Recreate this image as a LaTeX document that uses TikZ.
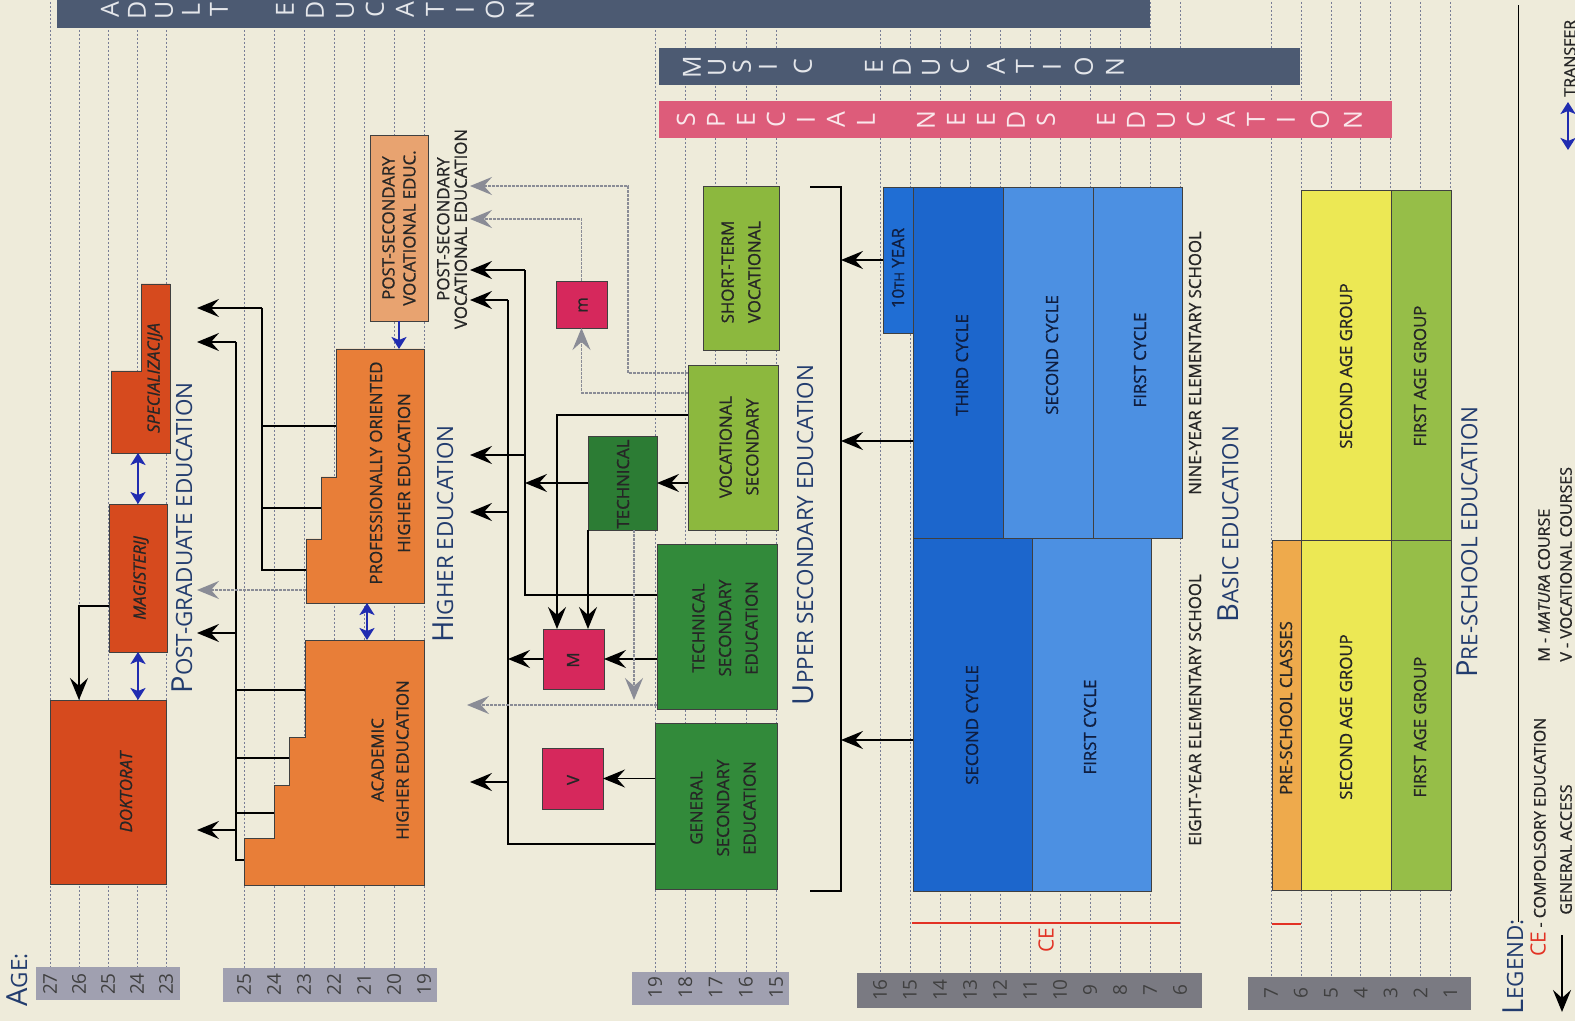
\documentclass[tikz,border=0pt]{standalone}
\usepackage{fontspec}
\setmainfont{Open Sans}[FakeBold=0.9]
\newfontfamily\titlefont{Open Sans}
\usepackage{tikz}
\usetikzlibrary{arrows.meta,calc}
\definecolor{paper}{RGB}{238,235,218}
\definecolor{gridblue}{RGB}{120,125,150}
\definecolor{agegray}{RGB}{160,160,176}
\definecolor{agedark}{RGB}{122,122,130}
\definecolor{slate}{RGB}{76,90,114}
\definecolor{rosebar}{RGB}{221,92,122}
\definecolor{pgred}{RGB}{214,74,30}
\definecolor{heorange}{RGB}{232,126,56}
\definecolor{pslight}{RGB}{232,163,112}
\definecolor{secgreen}{RGB}{50,138,58}
\definecolor{techgreen}{RGB}{44,124,52}
\definecolor{vocgreen}{RGB}{140,184,62}
\definecolor{mcrimson}{RGB}{214,40,92}
\definecolor{bluedark}{RGB}{28,102,204}
\definecolor{bluelight}{RGB}{76,144,226}
\definecolor{tenthblue}{RGB}{32,110,212}
\definecolor{psorange}{RGB}{238,170,76}
\definecolor{psyellow}{RGB}{236,232,84}
\definecolor{psgreen}{RGB}{150,190,72}
\definecolor{titleblue}{RGB}{34,60,110}
\definecolor{navytext}{RGB}{15,30,64}
\definecolor{cered}{RGB}{226,50,36}
\definecolor{transblue}{RGB}{32,44,176}
\definecolor{accgray}{RGB}{138,140,150}
% box from (x1,y1) to (x2,y2) in picture units
\newcommand{\edbox}[6]{%
  \node[#2, minimum width={(#5-#3)*0.5pt}, minimum height={(#6-#4)*0.5pt}]
    (#1) at ({(#3+#5)/2},{(#4+#6)/2}) {};}
\newcommand{\sctitle}[2]{{\titlefont\fontsize{14.5}{15}\selectfont #1}{\titlefont\fontsize{11.2}{12}\selectfont #2}}

\begin{document}
\begin{tikzpicture}[x=0.5pt, y=-0.5pt,
    every node/.style={font=\fontsize{8.4}{13.3}\selectfont, text=black!85, inner sep=0pt},
    box/.style={draw=black!75, line width=0.4pt, outer sep=0pt},
    lbl/.style={rotate=90, align=center},
    ttl/.style={rotate=90, text=titleblue},
    gline/.style={gridblue, line width=0.3pt, dash pattern=on 1.2pt off 0.8pt},
    conn/.style={line width=0.9pt},
    arr/.style={line width=0.9pt, arrows={-Stealth[length=11pt,width=9pt,inset=4pt]}},
    garr/.style={accgray, line width=0.9pt, dash pattern=on 1.5pt off 0.5pt,
      arrows={-Stealth[length=11pt,width=9pt,inset=4pt]}},
    trans/.style={transblue, line width=1.4pt,
      arrows={Stealth[length=6pt,width=7.5pt,inset=1.5pt]-Stealth[length=6pt,width=7.5pt,inset=1.5pt]}},
    transone/.style={transblue, line width=1.4pt, arrows={-Stealth[length=6pt,width=7.5pt,inset=1.5pt]}},
    bannerletter/.style={rotate=90, font=\titlefont\fontsize{12.5}{12}\selectfont},
    agenum/.style={rotate=90, font=\titlefont\fontsize{9.5}{9}\selectfont, text=black!75}]
  \path[use as bounding box] (0,0) rectangle (1575,1021);
  \clip (0,0) rectangle (1575,1021);
  \fill[paper] (0,0) rectangle (1575,1021);

  % --- age axes and grid ---
  \fill[agegray] (36,967) rectangle (180,1000);
  \foreach \a [count=\i from 0] in {27,26,25,24,23} {
    \pgfmathsetmacro{\x}{50+29*\i}
    \draw[gline] (\x,2) -- (\x,967);
    \node[agenum] (pg\a) at (\x,984) {\a};
  }
  \fill[agegray] (223,968) rectangle (437,1002);
  \foreach \a [count=\i from 0] in {25,24,23,22,21,20,19} {
    \pgfmathsetmacro{\x}{244+30*\i}
    \draw[gline] (\x,2) -- (\x,968);
    \node[agenum] (he\a) at (\x,985) {\a};
  }
  \fill[agegray] (632,972) rectangle (789,1005);
  \foreach \a [count=\i from 0] in {19,18,17,16,15} {
    \pgfmathsetmacro{\x}{655+30.3*\i}
    \draw[gline] (\x,2) -- (\x,972);
    \node[agenum] (us\a) at (\x,988) {\a};
  }
  \fill[agedark] (857,973) rectangle (1202,1008);
  \foreach \a [count=\i from 0] in {16,15,14,13,12,11,10,9,8,7,6} {
    \pgfmathsetmacro{\x}{880+30*\i}
    \draw[gline] (\x,2) -- (\x,973);
    \node[agenum] (be\a) at (\x,990) {\a};
  }
  \fill[agedark] (1248,977) rectangle (1471,1010);
  \foreach \a [count=\i from 0] in {7,6,5,4,3,2,1} {
    \pgfmathsetmacro{\x}{1271+29.9*\i}
    \draw[gline] (\x,2) -- (\x,977);
    \node[agenum] (ps\a) at (\x,993) {\a};
  }
  \node[ttl] (age) at (17,980) {\sctitle{A}{GE:}};

  % --- banners ---
  \fill[slate] (57,-5) rectangle (1150,28);
  \foreach \c/\x in {A/110,D/137,U/164,L/191,T/219,E/285,D/315,U/345,C/375,A/405,T/435,I/465,O/495,N/525}
    \node[bannerletter, text=slate!15] (ad\x) at (\x,10) {\c};
  \fill[slate] (659,48) rectangle (1300,85);
  \foreach \c/\x in {M/692,U/717,S/742,I/768,C/803,E/874,D/902,U/931,C/960,A/996,T/1025,I/1052,O/1084,N/1115}
    \node[bannerletter, text=slate!15] (mu\x) at (\x,67) {\c};
  \fill[rosebar] (659,101) rectangle (1392,138);
  \foreach \c/\x in {S/686,P/716,E/746,C/776,I/806,A/836,L/866,N/926,E/956,E/986,D/1016,S/1046,E/1106,D/1136,U/1166,C/1196,A/1226,T/1256,I/1286,O/1320,N/1353}
    \node[bannerletter, text=rosebar!15] (sn\x) at (\x,120) {\c};

  % --- post-graduate ---
  \edbox{dok}{box,fill=pgred}{50}{700}{166}{884}
  \node[lbl, font=\fontsize{8.4}{13}\selectfont\itshape] (dok-t) at (126,792) {DOKTORAT};
  \edbox{mag}{box,fill=pgred}{109}{504}{167}{652}
  \node[lbl, font=\fontsize{8.4}{13}\selectfont\itshape] (mag-t) at (141,578) {MAGISTERIJ};
  \filldraw[fill=pgred, draw=black!75, line width=0.4pt]
    (111,453) -- (111,371) -- (141,371) -- (141,284) -- (170,284) -- (170,453) -- cycle;
  \node[lbl, font=\fontsize{8.4}{13}\selectfont\itshape] (spec) at (155,378) {SPECIALIZACIJA};
  \coordinate (specB) at (138,453);
  \draw[trans] (mag.south) -- (mag.south |- dok.north);
  \draw[trans] (mag.north) -- (mag.north |- specB);
  \draw[arr] ($(mag.west)+(0,28)$) -| ($(dok.north)+(-29,0)$);
  \node[ttl] (pgt) at (182,538) {\sctitle{P}{OST-GRADUATE EDUCATION}};

  % --- higher education ---
  \filldraw[fill=heorange, draw=black!75, line width=0.4pt]
    (244,885) -- (244,838) -- (274,838) -- (274,785) -- (289,785) -- (289,737)
    -- (305,737) -- (305,640) -- (424,640) -- (424,885) -- cycle;
  \node[lbl, font=\fontsize{8.4}{12.5}\selectfont] (acad) at (390,760) {ACADEMIC\\HIGHER EDUCATION};
  \filldraw[fill=heorange, draw=black!75, line width=0.4pt]
    (306,603) -- (306,539) -- (321,539) -- (321,477) -- (336,477) -- (336,349)
    -- (424,349) -- (424,603) -- cycle;
  \node[lbl, font=\fontsize{8.4}{14}\selectfont] (prof) at (390,473) {PROFESSIONALLY ORIENTED\\HIGHER EDUCATION};
  \edbox{psv}{box,fill=pslight}{370}{135}{428}{321}
  \node[lbl, font=\fontsize{8.4}{10.5}\selectfont] (psv-t) at (399,228) {POST-SECONDARY\\VOCATIONAL EDUC.};
  \coordinate (profT) at (399,349);
  \coordinate (profB) at (367,603);
  \coordinate (acadT) at (367,640);
  \draw[transone] (psv.south) -- (profT);
  \draw[trans] (profB) -- (acadT);

  \coordinate (pgIn) at (197,0);
  % academic exits
  \coordinate (acTop) at (236,342);
  \coordinate (acBot) at (236,860);
  \coordinate (ac1) at (244,860);
  \coordinate (ac2) at (274,813);
  \coordinate (ac3) at (289,758);
  \coordinate (ac4) at (305,690);
  \coordinate (acM) at (236,633);
  \coordinate (acD) at (236,830);
  \draw[conn] (acTop) -- (acBot) -- (ac1);
  \foreach \c in {ac2,ac3,ac4}
    \draw[conn] (\c) -- (\c -| acTop);
  \foreach \c in {acTop,acM,acD}
    \draw[arr] (\c) -- (\c -| pgIn);
  % professional exits
  \coordinate (prTop) at (262,308);
  \coordinate (prBot) at (262,570);
  \coordinate (pr1) at (306,570);
  \coordinate (pr2) at (321,508);
  \coordinate (pr3) at (336,426);
  \coordinate (pr4) at (306,590);
  \draw[conn] (prTop) -- (prBot) -- (pr1);
  \foreach \c in {pr2,pr3}
    \draw[conn] (\c) -- (\c -| prTop);
  \draw[arr] (prTop) -- (prTop -| pgIn);
  \draw[garr] (pr4) -- (pr4 -| pgIn);
  \node[ttl] (het) at (443,534) {\sctitle{H}{IGHER EDUCATION}};
  \node[lbl, font=\fontsize{8.4}{8.8}\selectfont] (psvl) at (452,229) {POST-SECONDARY\\VOCATIONAL EDUCATION};

  % --- upper secondary ---
  \edbox{gen}{box,fill=secgreen}{655}{723}{777}{889}
  \node[lbl] (gen-t) at (723,808) {GENERAL\\SECONDARY\\EDUCATION};
  \edbox{tsec}{box,fill=secgreen}{657}{544}{777}{709}
  \node[lbl] (tsec-t) at (725,628) {TECHNICAL\\SECONDARY\\EDUCATION};
  \edbox{tech}{box,fill=techgreen}{588}{436}{657}{530}
  \node[lbl] (tech-t) at (623,484) {TECHNICAL};
  \edbox{vsec}{box,fill=vocgreen}{688}{365}{778}{530}
  \node[lbl] (vsec-t) at (739,447) {VOCATIONAL\\SECONDARY};
  \edbox{stv}{box,fill=vocgreen}{703}{186}{779}{350}
  \node[lbl] (stv-t) at (741,272) {SHORT-TERM\\VOCATIONAL};
  \edbox{vbox}{box,fill=mcrimson}{542}{748}{603}{809}
  \node[lbl] (v-t) at (573,780) {V};
  \edbox{mbig}{box,fill=mcrimson}{543}{629}{604}{689}
  \node[lbl] (M-t) at (573,660) {M};
  \edbox{msmall}{box,fill=mcrimson}{556}{281}{607}{328}
  \node[lbl] (m-t) at (583,305) {m};

  \coordinate (heIn) at (470,0);
  % general secondary
  \coordinate (gnTop) at (508,300);
  \coordinate (gnBot) at (508,844);
  \coordinate (gnMid) at (508,512);
  \coordinate (gnLow) at (508,782);
  \draw[conn] (gen.west |- gnBot) -- (gnBot) -- (gnTop);
  \foreach \c in {gnTop,gnMid,gnLow}
    \draw[arr] (\c) -- (\c -| heIn);
  \draw[arr] (vbox.east -| gen.west) -- (vbox.east);
  \draw[arr] (mbig.west) -- (mbig.west -| gnTop);
  % technical secondary
  \coordinate (tsTop) at (525,270);
  \coordinate (tsBot) at (525,595);
  \coordinate (tsMid) at (525,455);
  \draw[conn] (tsec.west |- tsBot) -- (tsBot) -- (tsTop);
  \foreach \c in {tsTop,tsMid}
    \draw[arr] (\c) -- (\c -| heIn);
  \draw[arr] (tech.west) -- (tech.west -| tsTop);
  \draw[arr] (vsec.west |- tech.east) -- (tech.east);
  \draw[arr] (mbig.east -| tsec.west) -- (mbig.east);
  \coordinate (vsM) at (557,415);
  \draw[arr] (vsec.west |- vsM) -- (vsM) -- (vsM |- mbig.north);
  \draw[arr] (tech.south west) -- (tech.south west |- mbig.north);
  % conditional access (grey)
  \coordinate (tgIn) at (467,705);
  \coordinate (tdn) at (634,700);
  \coordinate (vm) at (581.5,393);
  \coordinate (mp) at (581.5,219);
  \coordinate (vp1) at (628,373);
  \coordinate (vp2) at (628,186);
  \draw[garr] (tsec.west |- tgIn) -- (tgIn);
  \draw[garr] (tech.south -| tdn) -- (tdn);
  \draw[garr] (vsec.west |- vm) -- (vm) -- (msmall.south);
  \draw[garr] (msmall.north) -- (mp) -- (mp -| heIn);
  \draw[garr] (vsec.west |- vp1) -- (vp1) -- (vp2) -- (vp2 -| heIn);
  \node[ttl] (ust) at (803,535) {\sctitle{U}{PPER SECONDARY EDUCATION}};
  % bracket
  \coordinate (brT) at (841,187);
  \coordinate (brB) at (841,891);
  \draw[conn] ($(brT)+(-31,0)$) -- (brT) -- (brB) -- ($(brB)+(-31,0)$);

  % --- basic education ---
  \edbox{tenth}{box,fill=tenthblue}{883}{187}{913}{333}
  \node[lbl, text=navytext] (tenth-t) at (898,268) {10{\fontsize{6.5}{8}\selectfont TH} YEAR};
  \edbox{third9}{box,fill=bluedark}{913}{187}{1003}{538}
  \node[lbl, text=navytext] (third9-t) at (962,365) {THIRD CYCLE};
  \edbox{second9}{box,fill=bluelight}{1003}{187}{1093}{538}
  \node[lbl, text=navytext] (second9-t) at (1052,355) {SECOND CYCLE};
  \edbox{first9}{box,fill=bluelight}{1093}{187}{1182}{538}
  \node[lbl, text=navytext] (first9-t) at (1140,360) {FIRST CYCLE};
  \edbox{second8}{box,fill=bluedark}{913}{538}{1032}{891}
  \node[lbl, text=navytext] (second8-t) at (972,725) {SECOND CYCLE};
  \edbox{first8}{box,fill=bluelight}{1032}{538}{1151}{891}
  \node[lbl, text=navytext] (first8-t) at (1090,727) {FIRST CYCLE};
  \coordinate (t9a) at (913,441);
  \coordinate (s8a) at (913,740);
  \draw[arr] (tenth.west) -- (tenth.west -| brT);
  \draw[arr] (t9a) -- (t9a -| brT);
  \draw[arr] (s8a) -- (s8a -| brT);
  \coordinate (ceA) at (912,923);
  \coordinate (ceB) at (1180,923);
  \draw[cered, line width=1.2pt] (ceA) -- (ceB);
  \node[rotate=90, text=cered, font=\titlefont\fontsize{10.5}{10.5}\selectfont] (ce) at (1046,940) {CE};
  \node[lbl] (nine) at (1195,363) {NINE-YEAR ELEMENTARY SCHOOL};
  \node[lbl] (eight) at (1195,710) {EIGHT-YEAR ELEMENTARY SCHOOL};
  \node[ttl] (bet) at (1228,524) {\sctitle{B}{ASIC EDUCATION}};

  % --- pre-school ---
  \edbox{psc}{box,fill=psorange}{1272}{540}{1301}{890}
  \node[lbl] (psc-t) at (1286,708) {PRE-SCHOOL CLASSES};
  \edbox{ytop}{box,fill=psyellow}{1301}{190}{1391}{540}
  \node[lbl] (ytop-t) at (1346,366) {SECOND AGE GROUP};
  \edbox{ybot}{box,fill=psyellow}{1301}{540}{1391}{890}
  \node[lbl] (ybot-t) at (1346,717) {SECOND AGE GROUP};
  \edbox{gtop}{box,fill=psgreen}{1391}{190}{1451}{540}
  \node[lbl] (gtop-t) at (1420,376) {FIRST AGE GROUP};
  \edbox{gbot}{box,fill=psgreen}{1391}{540}{1451}{890}
  \node[lbl] (gbot-t) at (1420,727) {FIRST AGE GROUP};
  \coordinate (psA) at (1272,924);
  \coordinate (psB) at (1301,924);
  \draw[cered, line width=1.2pt] (psA) -- (psB);
  \node[ttl] (pset) at (1467,542) {\sctitle{P}{RE-SCHOOL EDUCATION}};

  % --- legend ---
  \node[ttl] (leg) at (1513,967) {\sctitle{L}{EGEND:}};
  \coordinate (legTop) at (1518,5);
  \coordinate (legBot) at (1518,922);
  \draw[line width=0.5pt] (legBot) -- (legTop);
  \node[rotate=90, anchor=west, font=\fontsize{8}{10}\selectfont] (lce) at (1538,957)
    {\textcolor{cered}{\titlefont\fontsize{10.5}{10}\selectfont CE} - COMPOLSORY EDUCATION};
  \node[rotate=90, anchor=west, font=\fontsize{8}{10}\selectfont] (lga) at (1566,915) {GENERAL ACCESS};
  \coordinate (lgaA) at (1562,935);
  \coordinate (lgaB) at (1562,1012);
  \draw[arr, line width=1.3pt] (lgaA) -- (lgaB);
  \node[rotate=90, anchor=west, font=\fontsize{8}{10}\selectfont] (lm) at (1544,662) {M - \textit{MATURA} COURSE};
  \node[rotate=90, anchor=west, font=\fontsize{8}{10}\selectfont] (lv) at (1566,662) {V - VOCATIONAL COURSES};
  \node[rotate=90, anchor=west, font=\fontsize{8}{10}\selectfont] (ltr) at (1570,97) {TRANSFER};
  \coordinate (trA) at (1568,102);
  \coordinate (trB) at (1568,150);
  \draw[trans] (trA) -- (trB);
\end{tikzpicture}
\end{document}
